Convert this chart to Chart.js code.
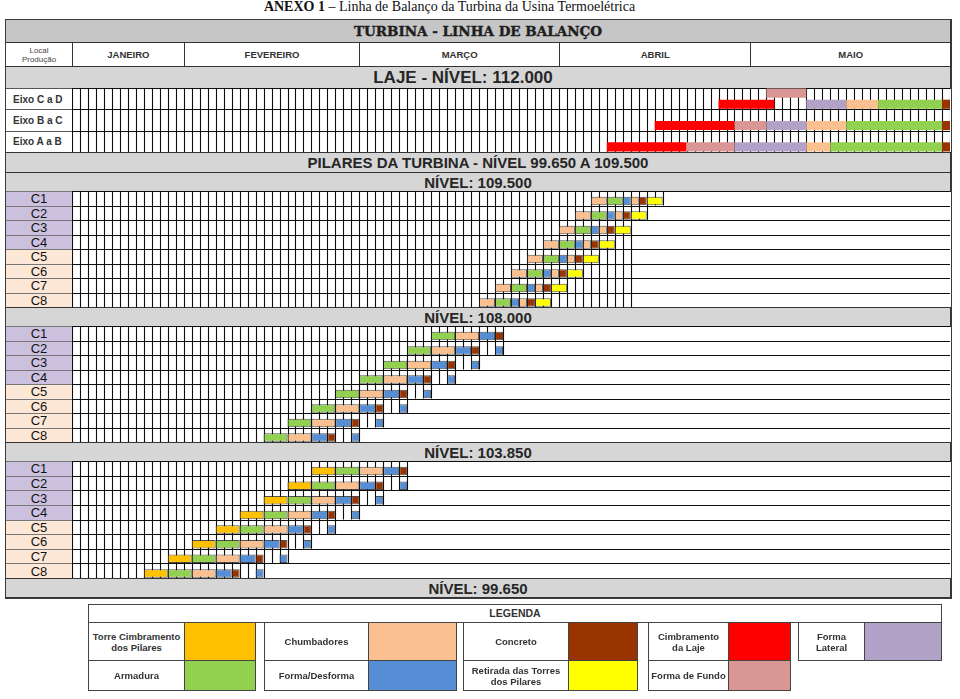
<!DOCTYPE html>
<html lang="pt">
<head>
<meta charset="UTF-8">
<title>Linha de Balanço da Turbina</title>
<script src="https://cdn.jsdelivr.net/npm/chart.js"></script>
<style>
  html, body { margin: 0; padding: 0; background: #fff; }
  body { position: relative; width: 960px; height: 699px; overflow: hidden;
         font-family: Arial, "Liberation Sans", sans-serif; color: #222; }
  .abs { position: absolute; box-sizing: border-box; }
  .band { background: #d6d6d6; border: 1px solid #333; display: flex; align-items: center;
          justify-content: center; font-weight: bold; font-size: 15px; color: #262626; }
  .title { background: #c6c6c6; font-family: "DejaVu Serif", serif; font-size: 13.5px; font-weight: 900; color: #1e1e1e;
           -webkit-text-stroke: 0.4px #1e1e1e; }
  .hcell { background: #fff; border: 1px solid #333; display: flex; align-items: center;
           justify-content: center; font-size: 9.5px; font-weight: bold; color: #333; }
  .lab { border: 1px solid #555; display: flex; align-items: center; white-space: nowrap; }
  .lab.eixo { background: #fff; font-size: 10px; font-weight: bold; padding-left: 7px; color: #333; }
  .lab.pil { justify-content: center; font-size: 13px; line-height: 13px; color: #111; border-color: #777; }
  .leg { border: 1px solid #444; display: flex; align-items: center; justify-content: center;
         text-align: center; white-space: pre-line; font-size: 9.5px; font-weight: bold; line-height: 11px; color: #333; background: #fff; }
  #title { position: absolute; left: 0; top: 0; width: 899px; text-align: center;
           font-family: "Liberation Serif", "Times New Roman", serif; font-size: 14px; line-height: 14px; color: #111; }
</style>
</head>
<body>
<div id="title"><b>ANEXO 1</b> – Linha de Balanço da Turbina da Usina Termoelétrica</div>
<script>
// ---- data (columns = working days) ----
const monthNames = ['JANEIRO', 'FEVEREIRO', 'MARÇO', 'ABRIL', 'MAIO'];
const monthCols = [14, 22, 25, 24, 25];

const activities = ['torre', 'arm', 'chumb', 'forma', 'conc', 'ret', 'cimb', 'fundo', 'lat'];
const actLabels = ['Torre Cimbramento\ndos Pilares', 'Armadura', 'Chumbadores', 'Forma/Desforma', 'Concreto',
                   'Retirada das Torres\ndos Pilares', 'Cimbramento\nda Laje', 'Forma de Fundo', 'Forma\nLateral'];
const actColors = ['#ffc000', '#92d050', '#fac090', '#558ed5', '#993300', '#ffff00', '#ff0000', '#da9694', '#b3a2c7'];

const lajeRows = ['Eixo C a D', 'Eixo B a C', 'Eixo A a B'];
const lajeTasks = [
  ['Eixo C a D', 'cimb', 81, 88], ['Eixo C a D', 'fundo', 87, 92, 'sup'], ['Eixo C a D', 'lat', 92, 97],
  ['Eixo C a D', 'chumb', 97, 101], ['Eixo C a D', 'arm', 101, 109], ['Eixo C a D', 'conc', 109, 110],
  ['Eixo B a C', 'cimb', 73, 83], ['Eixo B a C', 'fundo', 83, 87], ['Eixo B a C', 'lat', 87, 92],
  ['Eixo B a C', 'chumb', 92, 97], ['Eixo B a C', 'arm', 97, 109], ['Eixo B a C', 'conc', 109, 110],
  ['Eixo A a B', 'cimb', 67, 77], ['Eixo A a B', 'fundo', 77, 83], ['Eixo A a B', 'lat', 83, 92],
  ['Eixo A a B', 'chumb', 92, 95], ['Eixo A a B', 'arm', 95, 109], ['Eixo A a B', 'conc', 109, 110]
];
const lajeGridEnd = [110, 110, 110];

const pilarRows = ['C1', 'C2', 'C3', 'C4', 'C5', 'C6', 'C7', 'C8'];

const tasks109 = [
  ['C1', 'chumb', 65, 67], ['C1', 'arm', 67, 69], ['C1', 'forma', 69, 70], ['C1', 'chumb', 70, 71], ['C1', 'conc', 71, 72], ['C1', 'ret', 72, 74],
  ['C2', 'chumb', 63, 65], ['C2', 'arm', 65, 67], ['C2', 'forma', 67, 68], ['C2', 'chumb', 68, 69], ['C2', 'conc', 69, 70], ['C2', 'ret', 70, 72],
  ['C3', 'chumb', 61, 63], ['C3', 'arm', 63, 65], ['C3', 'forma', 65, 66], ['C3', 'chumb', 66, 67], ['C3', 'conc', 67, 68], ['C3', 'ret', 68, 70],
  ['C4', 'chumb', 59, 61], ['C4', 'arm', 61, 63], ['C4', 'forma', 63, 64], ['C4', 'chumb', 64, 65], ['C4', 'conc', 65, 66], ['C4', 'ret', 66, 68],
  ['C5', 'chumb', 57, 59], ['C5', 'arm', 59, 61], ['C5', 'forma', 61, 62], ['C5', 'chumb', 62, 63], ['C5', 'conc', 63, 64], ['C5', 'ret', 64, 66],
  ['C6', 'chumb', 55, 57], ['C6', 'arm', 57, 59], ['C6', 'forma', 59, 60], ['C6', 'chumb', 60, 61], ['C6', 'conc', 61, 62], ['C6', 'ret', 62, 64],
  ['C7', 'chumb', 53, 55], ['C7', 'arm', 55, 57], ['C7', 'forma', 57, 58], ['C7', 'chumb', 58, 59], ['C7', 'conc', 59, 60], ['C7', 'ret', 60, 62],
  ['C8', 'chumb', 51, 53], ['C8', 'arm', 53, 55], ['C8', 'forma', 55, 56], ['C8', 'chumb', 56, 57], ['C8', 'conc', 57, 58], ['C8', 'ret', 58, 60]
];
const gridEnd109 = [74, 72, 70, 70, 70, 70, 70, 70];

const tasks108 = [
  ['C1', 'arm', 45, 48], ['C1', 'chumb', 48, 51], ['C1', 'forma', 51, 53], ['C1', 'conc', 53, 54],
  ['C2', 'arm', 42, 45], ['C2', 'chumb', 45, 48], ['C2', 'forma', 48, 50], ['C2', 'conc', 50, 51], ['C2', 'forma', 53, 54],
  ['C3', 'arm', 39, 42], ['C3', 'chumb', 42, 45], ['C3', 'forma', 45, 47], ['C3', 'conc', 47, 48], ['C3', 'forma', 50, 51],
  ['C4', 'arm', 36, 39], ['C4', 'chumb', 39, 42], ['C4', 'forma', 42, 44], ['C4', 'conc', 44, 45], ['C4', 'forma', 47, 48],
  ['C5', 'arm', 33, 36], ['C5', 'chumb', 36, 39], ['C5', 'forma', 39, 41], ['C5', 'conc', 41, 42], ['C5', 'forma', 44, 45],
  ['C6', 'arm', 30, 33], ['C6', 'chumb', 33, 36], ['C6', 'forma', 36, 38], ['C6', 'conc', 38, 39], ['C6', 'forma', 41, 42],
  ['C7', 'arm', 27, 30], ['C7', 'chumb', 30, 33], ['C7', 'forma', 33, 35], ['C7', 'conc', 35, 36], ['C7', 'forma', 38, 39],
  ['C8', 'arm', 24, 27], ['C8', 'chumb', 27, 30], ['C8', 'forma', 30, 32], ['C8', 'conc', 32, 33], ['C8', 'forma', 35, 36]
];
const gridEnd108 = [54, 54, 51, 48, 45, 42, 39, 36];

const tasks103 = [
  ['C1', 'torre', 30, 33], ['C1', 'arm', 33, 36], ['C1', 'chumb', 36, 39], ['C1', 'forma', 39, 41], ['C1', 'conc', 41, 42],
  ['C2', 'torre', 27, 30], ['C2', 'arm', 30, 33], ['C2', 'chumb', 33, 36], ['C2', 'forma', 36, 38], ['C2', 'conc', 38, 39], ['C2', 'forma', 41, 42],
  ['C3', 'torre', 24, 27], ['C3', 'arm', 27, 30], ['C3', 'chumb', 30, 33], ['C3', 'forma', 33, 35], ['C3', 'conc', 35, 36], ['C3', 'forma', 38, 39],
  ['C4', 'torre', 21, 24], ['C4', 'arm', 24, 27], ['C4', 'chumb', 27, 30], ['C4', 'forma', 30, 32], ['C4', 'conc', 32, 33], ['C4', 'forma', 35, 36],
  ['C5', 'torre', 18, 21], ['C5', 'arm', 21, 24], ['C5', 'chumb', 24, 27], ['C5', 'forma', 27, 29], ['C5', 'conc', 29, 30], ['C5', 'forma', 32, 33],
  ['C6', 'torre', 15, 18], ['C6', 'arm', 18, 21], ['C6', 'chumb', 21, 24], ['C6', 'forma', 24, 26], ['C6', 'conc', 26, 27], ['C6', 'forma', 29, 30],
  ['C7', 'torre', 12, 15], ['C7', 'arm', 15, 18], ['C7', 'chumb', 18, 21], ['C7', 'forma', 21, 23], ['C7', 'conc', 23, 24], ['C7', 'forma', 26, 27],
  ['C8', 'torre', 9, 12], ['C8', 'arm', 12, 15], ['C8', 'chumb', 15, 18], ['C8', 'forma', 18, 20], ['C8', 'conc', 20, 21], ['C8', 'forma', 23, 24]
];
const gridEnd103 = [42, 42, 39, 36, 33, 30, 27, 24];

// ---- page geometry ----
const FRAME_L = 5, FRAME_R = 951, GRID_L = 72, GRID_R = 950;
const TOTAL_COLS = monthCols.reduce((a, b) => a + b, 0);
const colW = (GRID_R - GRID_L) / TOTAL_COLS;

function cell(x, y, w, h, cls, text) {
  const d = document.createElement('div');
  d.className = 'abs ' + (cls || '');
  d.style.left = x + 'px'; d.style.top = y + 'px';
  d.style.width = w + 'px'; d.style.height = h + 'px';
  if (text !== undefined) d.textContent = text;
  document.body.appendChild(d);
  return d;
}

function band(y, h, text, cls) {
  return cell(FRAME_L, y, FRAME_R - FRAME_L, h, 'band ' + (cls || ''), text);
}

// draws the spreadsheet cells: vertical day lines up to each row's end, row lines full width
const sheetGrid = {
  id: 'sheetGrid',
  beforeDatasetsDraw(chart, args, opts) {
    const { ctx, chartArea: a, scales: { x, y } } = chart;
    const n = chart.data.labels.length;
    ctx.save();
    ctx.strokeStyle = '#0d0d0d';
    ctx.lineWidth = 1.1;
    ctx.beginPath();
    for (let i = 0; i < n; i++) {
      const top = y.getPixelForValue(i - 0.5);
      const bot = y.getPixelForValue(i + 0.5);
      for (let c = 0; c <= opts.ends[i]; c++) {
        const px = Math.round(x.getPixelForValue(c)) + 0.5;
        ctx.moveTo(px, top);
        ctx.lineTo(px, bot);
      }
    }
    for (let i = 0; i <= n; i++) {
      const py = Math.round(y.getPixelForValue(i - 0.5)) + 0.5;
      ctx.moveTo(a.left, py);
      ctx.lineTo(a.right, py);
    }
    ctx.stroke();
    ctx.restore();
  }
};

const colorOf = c => c.raw ? actColors[activities.indexOf(c.raw.a)] : '#000';

function gridSection(top, height, rows, tasks, ends, look, labelCls) {
  const rowH = height / rows.length;
  rows.forEach((r, i) => {
    const d = cell(FRAME_L, top + i * rowH, GRID_L - FRAME_L + 1, rowH + 1, 'lab ' + labelCls, r);
    if (labelCls === 'pil') d.style.background = i < 4 ? '#cbc1df' : '#fde7d6';
  });
  const wrap = cell(GRID_L, top, GRID_R - GRID_L, height, '');
  const canvas = document.createElement('canvas');
  wrap.appendChild(canvas);
  const toPoint = t => ({ x: [t[2], t[3]], y: t[0], a: t[1] });
  const common = {
    backgroundColor: colorOf,
    borderColor: 'rgba(35,35,35,0.8)',
    borderWidth: look.border,
    borderSkipped: false,
    categoryPercentage: look.cat,
    barPercentage: look.bar
  };
  new Chart(canvas, {
    type: 'bar',
    data: {
      labels: rows,
      datasets: [
        { label: 'superior', data: tasks.filter(t => t[4] === 'sup').map(toPoint), ...common },
        { label: 'inferior', data: tasks.filter(t => t[4] !== 'sup').map(toPoint), ...common }
      ]
    },
    options: {
      indexAxis: 'y',
      responsive: true,
      maintainAspectRatio: false,
      animation: false,
      layout: { padding: 0 },
      scales: {
        x: { type: 'linear', min: 0, max: TOTAL_COLS, display: false },
        y: { type: 'category', display: false, offset: true }
      },
      plugins: { legend: { display: false }, tooltip: { enabled: false }, sheetGrid: { ends } }
    },
    plugins: [sheetGrid]
  });
}

// ---- sheet ----
band(19, 24, 'TURBINA - LINHA DE BALANÇO', 'title');
cell(FRAME_L, 42, GRID_L - FRAME_L + 1, 25, 'hcell', 'Local\nProdução').style.cssText +=
  ';white-space:pre-line;text-align:center;font-size:8px;font-weight:normal;line-height:9px;color:#444';
let cum = 0;
monthNames.forEach((m, i) => {
  const x0 = GRID_L + cum * colW;
  cum += monthCols[i];
  const x1 = GRID_L + cum * colW;
  cell(x0, 42, x1 - x0 + 1, 25, 'hcell', m);
});
band(66, 23, 'LAJE - NÍVEL: 112.000').style.cssText += ';font-size:17px;padding-right:30px';
gridSection(88, 64, lajeRows, lajeTasks, lajeGridEnd, { border: 0, cat: 1.04, bar: 0.82 }, 'eixo');
band(152, 21, 'PILARES DA TURBINA - NÍVEL 99.650 A 109.500');
band(172, 20, 'NÍVEL: 109.500');
gridSection(191, 116, pilarRows, tasks109, gridEnd109, { border: 1, cat: 0.74, bar: 1.57 }, 'pil');
band(307, 20, 'NÍVEL: 108.000');
gridSection(326, 116, pilarRows, tasks108, gridEnd108, { border: 1, cat: 0.74, bar: 1.57 }, 'pil');
band(442, 20, 'NÍVEL: 103.850');
gridSection(461, 117, pilarRows, tasks103, gridEnd103, { border: 1, cat: 0.74, bar: 1.57 }, 'pil');
band(578, 20, 'NÍVEL: 99.650');
cell(FRAME_L, 19, FRAME_R - FRAME_L + 1, 580, '').style.cssText += ';border:1.5px solid #3a3a3a;pointer-events:none';

// ---- legend ----
const legendGroups = [
  { x: 88, lw: 96, cw: 72, items: ['torre', 'arm'] },
  { x: 264, lw: 104, cw: 89, items: ['chumb', 'forma'] },
  { x: 463, lw: 105, cw: 70, items: ['conc', 'ret'] },
  { x: 648, lw: 80, cw: 63, items: ['cimb', 'fundo'] },
  { x: 798, lw: 66, cw: 78, items: ['lat'] }
];
const legRowY = [622, 660], legRowH = [39, 31];
cell(88, 604, 854, 19, 'leg', 'LEGENDA').style.fontSize = '10.5px';
legendGroups.forEach(g => {
  g.items.forEach((k, r) => {
    const idx = activities.indexOf(k);
    cell(g.x, legRowY[r], g.lw + 1, legRowH[r], 'leg', actLabels[idx]);
    cell(g.x + g.lw, legRowY[r], g.cw, legRowH[r], 'leg').style.background = actColors[idx];
  });
});
</script>
</body>
</html>
